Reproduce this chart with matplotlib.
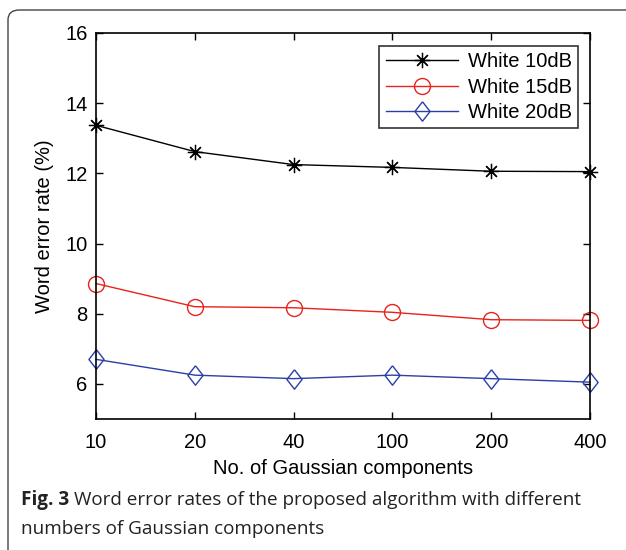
import numpy as np
import matplotlib

matplotlib.use("Agg")
import matplotlib.pyplot as plt
from matplotlib.patches import FancyBboxPatch

plt.rcParams["font.family"] = ["Liberation Sans", "DejaVu Sans"]

# data
components = ["10", "20", "40", "100", "200", "400"]
wer_10db = [13.37, 12.62, 12.25, 12.17, 12.06, 12.05]
wer_15db = [8.86, 8.20, 8.17, 8.04, 7.83, 7.81]
wer_20db = [6.70, 6.25, 6.15, 6.25, 6.15, 6.05]
labels = ["White 10dB", "White 15dB", "White 20dB"]
caption_bold = "Fig. 3"
caption_1 = "Word error rates of the proposed algorithm with different"
caption_2 = "numbers of Gaussian components"

FS = 14.5

fig = plt.figure(figsize=(6.26, 5.5), dpi=100)

# rounded frame round the figure + caption
frame = FancyBboxPatch((8 / 626, -0.1), 1.2, 1.1 - 10 / 550,
                       boxstyle="round,pad=0,rounding_size=0.018",
                       transform=fig.transFigure, fill=False,
                       edgecolor="#444444", lw=1.0, clip_on=False)
fig.patches.append(frame)

ax = fig.add_axes([96 / 626, 1 - 419 / 550, (590 - 96) / 626, (419 - 33) / 550])
x = np.arange(len(components))

diamond = [(0, 1), (0.78, 0), (0, -1), (-0.78, 0), (0, 1)]
ax.plot(x, wer_10db, "-", color="black", lw=1.0, marker=(8, 2, 0),
        ms=11, mec="black", mew=0.9, label=labels[0], clip_on=False)
ax.plot(x, wer_15db, "-", color="#e8221c", lw=1.0, marker="o",
        ms=11.5, mfc="none", mec="#e8221c", mew=1.0, label=labels[1],
        clip_on=False)
ax.plot(x, wer_20db, "-", color="#2b3fa6", lw=1.0, marker=diamond,
        ms=14, mfc="none", mec="#2b3fa6", mew=1.0, label=labels[2],
        clip_on=False)

ax.set_xlim(0, 5)
ax.set_ylim(5, 16)
ax.set_xticks(x)
ax.set_xticklabels(components)
ax.set_yticks([6, 8, 10, 12, 14, 16])
ax.tick_params(direction="in", top=True, right=True, labelsize=FS,
               length=5, width=1.0, pad=6)
ax.tick_params(axis="x", pad=10)
for s in ax.spines.values():
    s.set_linewidth(1.2)
ax.set_xlabel("No. of Gaussian components", fontsize=FS, labelpad=5)
ax.set_ylabel("Word error rate (%)", fontsize=FS, labelpad=8)

leg = ax.legend(loc="upper right", bbox_to_anchor=(0.976, 0.966),
                borderaxespad=0, fontsize=FS, frameon=True, fancybox=False,
                handlelength=3.6, borderpad=0.3, labelspacing=0.33,
                handletextpad=0.5)
leg.get_frame().set_edgecolor("black")
leg.get_frame().set_linewidth(1.2)

# caption: bold "Fig. 3" followed by regular text
cap_fs = 13.6
t_bold = fig.text(21 / 626, 1 - 505 / 550, caption_bold, fontsize=cap_fs,
                  family="Open Sans", weight="bold", va="baseline",
                  color="#222222")
fig.canvas.draw()
bb = t_bold.get_window_extent()
fig.text((bb.x1 + 5) / 626, 1 - 505 / 550, caption_1, fontsize=cap_fs,
         family="Open Sans", va="baseline", color="#222222")
fig.text(21 / 626, 1 - 534 / 550, caption_2, fontsize=cap_fs,
         family="Open Sans", va="baseline", color="#222222")

fig.savefig("out.png", dpi=100)
